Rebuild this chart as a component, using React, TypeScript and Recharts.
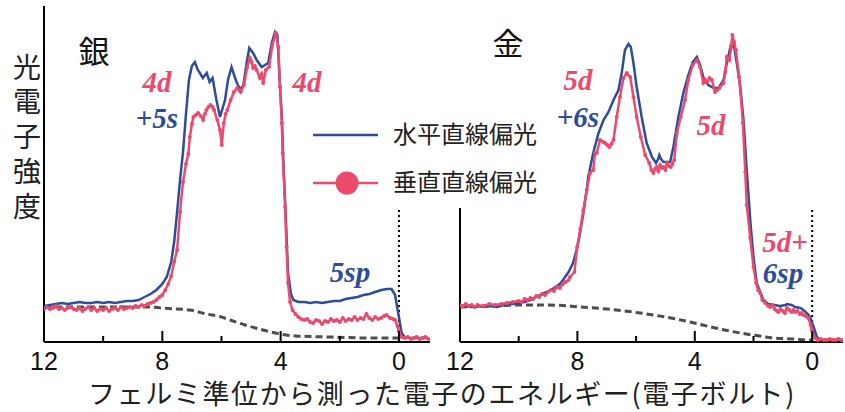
import React from 'react';
import { ComposedChart, Line, XAxis, YAxis, ReferenceLine, Legend } from 'recharts';

const BLUE = '#2c4c9c';
const RED = '#ec4a6d';
const GRAY = '#4d4d4d';

// tick positions (electron-volts below Fermi level)
const xTicks = [12, 10, 8, 6, 4, 2, 0];
const majorTickLabels = [12, 8, 4, 0];

const legendLabels = ['水平直線偏光', '垂直直線偏光'];
const yLabelText = '光電子強度';
const xLabelText = 'フェルミ準位から測った電子のエネルギー(電子ボルト)';

// ---------- 銀 (silver) ----------
const silverH: [number, number][] = [
  [12, 36], [11.8, 37], [11.6, 38], [11.4, 39], [11.2, 38], [11.0, 39], [10.8, 40], [10.6, 39],
  [10.4, 39], [10.2, 40], [10.0, 39], [9.8, 40], [9.6, 39], [9.4, 40], [9.2, 41], [9.0, 41],
  [8.8, 42], [8.6, 45], [8.4, 48], [8.2, 52], [8.0, 58], [7.85, 65], [7.7, 80], [7.6, 100],
  [7.5, 130], [7.4, 162], [7.3, 190], [7.2, 228], [7.1, 262], [7.0, 276], [6.9, 280], [6.8, 272],
  [6.73, 269], [6.63, 264], [6.5, 269], [6.4, 260], [6.3, 264], [6.17, 242], [6.05, 225], [5.95, 235],
  [5.88, 242], [5.78, 262], [5.66, 275], [5.55, 265], [5.49, 260], [5.37, 252], [5.26, 257], [5.15, 279],
  [5.06, 294], [4.93, 289], [4.81, 282], [4.64, 275], [4.53, 277], [4.42, 279], [4.3, 299], [4.19, 310],
  [4.11, 307], [4.02, 255], [3.96, 225], [3.91, 182], [3.85, 142], [3.75, 69], [3.65, 48], [3.57, 42],
  [3.4, 40], [3.2, 40], [3.0, 39], [2.8, 40], [2.6, 39], [2.4, 40], [2.2, 41], [2.0, 41],
  [1.8, 43], [1.6, 44], [1.4, 45], [1.2, 47], [1.0, 48], [0.8, 50], [0.6, 52], [0.4, 53],
  [0.25, 53], [0.13, 47], [0.05, 33], [0.0, 25], [-0.09, 9], [-0.2, 5], [-0.4, 4], [-0.6, 4],
  [-0.8, 4], [-1.0, 4],
];

const silverV: [number, number][] = [
  [12, 33], [11.9, 35], [11.8, 33], [11.7, 34], [11.6, 36], [11.5, 33], [11.4, 34], [11.3, 32],
  [11.2, 34], [11.1, 35], [11.0, 33], [10.9, 32], [10.8, 34], [10.7, 31], [10.6, 33], [10.5, 35],
  [10.4, 32], [10.3, 34], [10.2, 31], [10.1, 33], [10.0, 32], [9.9, 34], [9.8, 31], [9.7, 33],
  [9.6, 34], [9.5, 32], [9.4, 35], [9.3, 33], [9.2, 34], [9.1, 35], [9.0, 34], [8.9, 36],
  [8.8, 35], [8.7, 37], [8.6, 36], [8.5, 38], [8.4, 39], [8.3, 40], [8.2, 42], [8.1, 45],
  [8.0, 47], [7.9, 52], [7.8, 58], [7.7, 66], [7.6, 80], [7.5, 92], [7.4, 130], [7.3, 160],
  [7.2, 178], [7.12, 188], [7.07, 205], [7.0, 218], [6.95, 225], [6.87, 227], [6.79, 229], [6.7, 226],
  [6.62, 222], [6.56, 228], [6.51, 232], [6.44, 235], [6.37, 237], [6.3, 235], [6.25, 232], [6.14, 222],
  [6.05, 212], [5.99, 197], [5.92, 219], [5.86, 228], [5.8, 232], [5.69, 242], [5.58, 250], [5.47, 254],
  [5.4, 252], [5.35, 250], [5.24, 257], [5.13, 275], [5.04, 284], [4.98, 280], [4.93, 274], [4.87, 276],
  [4.81, 272], [4.7, 264], [4.64, 268], [4.59, 259], [4.5, 272], [4.39, 275], [4.28, 297], [4.16, 309],
  [4.08, 295], [4.02, 255], [3.96, 219], [3.93, 189], [3.85, 135], [3.8, 95], [3.75, 59], [3.68, 40],
  [3.6, 32], [3.5, 28], [3.4, 25], [3.3, 23], [3.2, 22], [3.1, 23], [3.0, 20], [2.9, 19],
  [2.8, 22], [2.7, 21], [2.6, 18], [2.5, 21], [2.4, 20], [2.3, 23], [2.2, 21], [2.1, 22],
  [2.0, 20], [1.9, 24], [1.8, 21], [1.7, 23], [1.6, 22], [1.5, 25], [1.4, 22], [1.3, 24],
  [1.2, 23], [1.1, 28], [1.0, 24], [0.9, 22], [0.8, 25], [0.7, 23], [0.6, 24], [0.5, 26],
  [0.42, 27], [0.3, 24], [0.2, 23], [0.13, 22], [0.05, 16], [0.0, 11], [-0.09, 5], [-0.2, 4],
  [-0.3, 5], [-0.4, 3], [-0.5, 4], [-0.6, 5], [-0.7, 3], [-0.8, 4], [-0.9, 5], [-1.0, 3],
];

const silverBg: [number, number][] = [
  [12, 35], [11, 35], [10, 35], [9, 35], [8.5, 35], [8, 34], [7.5, 33], [7.07, 32],
  [6.5, 28], [6, 25], [5.71, 22], [5.2, 17], [4.6, 12], [4.02, 8], [3.5, 6], [3, 5.5],
  [2.33, 5], [1, 4], [0, 4],
];

// ---------- 金 (gold) ----------
const goldH: [number, number][] = [
  [12, 37], [11.8, 36], [11.6, 35], [11.4, 36], [11.2, 35], [11.0, 36], [10.74, 35], [10.5, 37],
  [10.2, 38], [10.0, 39], [9.8, 40], [9.61, 42], [9.4, 45], [9.2, 48], [9.04, 50], [8.8, 54],
  [8.6, 58], [8.49, 62], [8.3, 70], [8.15, 79], [8.0, 95], [7.91, 109], [7.8, 128], [7.67, 155],
  [7.63, 165], [7.46, 189], [7.28, 209], [7.11, 222], [6.94, 230], [6.77, 242], [6.6, 252], [6.49, 269],
  [6.38, 292], [6.26, 298], [6.18, 295], [6.09, 279], [5.98, 255], [5.81, 225], [5.64, 199], [5.46, 185],
  [5.32, 179], [5.25, 183], [5.21, 187], [5.15, 183], [5.07, 180], [4.95, 180], [4.84, 180], [4.73, 195],
  [4.56, 225], [4.39, 249], [4.22, 267], [4.07, 280], [3.93, 285], [3.82, 277], [3.68, 262], [3.54, 257],
  [3.36, 254], [3.19, 254], [3.02, 262], [2.91, 279], [2.77, 297], [2.68, 299], [2.57, 279], [2.45, 255],
  [2.34, 222], [2.23, 172], [2.1, 118], [2.0, 85], [1.89, 59], [1.76, 49], [1.66, 42], [1.5, 38],
  [1.3, 37], [1.1, 36], [0.9, 37], [0.86, 38], [0.7, 37], [0.58, 35], [0.4, 34], [0.3, 32],
  [0.15, 28], [0.07, 25], [-0.05, 15], [-0.16, 5], [-0.27, 2], [-0.5, 2], [-1.0, 2],
];

const goldV: [number, number][] = [
  [12, 37], [11.9, 36], [11.8, 38], [11.7, 36], [11.6, 37], [11.5, 35], [11.4, 37], [11.2, 36],
  [11.0, 38], [10.8, 37], [10.6, 38], [10.4, 39], [10.2, 40], [10.0, 41], [9.9, 40], [9.8, 43],
  [9.7, 42], [9.6, 44], [9.5, 43], [9.4, 46], [9.3, 45], [9.2, 48], [9.1, 47], [9.0, 50],
  [8.9, 52], [8.8, 51], [8.7, 55], [8.6, 54], [8.5, 58], [8.4, 60], [8.3, 62], [8.25, 65],
  [8.1, 70], [8.01, 95], [7.9, 113], [7.8, 132], [7.68, 152], [7.57, 169], [7.46, 172], [7.4, 189],
  [7.34, 189], [7.23, 202], [7.12, 200], [7.06, 199], [6.98, 197], [6.91, 195], [6.84, 198], [6.77, 202],
  [6.66, 225], [6.55, 245], [6.43, 264], [6.32, 269], [6.2, 265], [6.09, 245], [5.98, 225], [5.84, 205],
  [5.69, 187], [5.55, 179], [5.48, 172], [5.41, 169], [5.35, 173], [5.3, 175], [5.24, 171], [5.18, 177],
  [5.12, 174], [5.07, 175], [5.0, 172], [4.95, 179], [4.88, 176], [4.82, 175], [4.76, 178], [4.7, 182],
  [4.61, 209], [4.48, 225], [4.33, 242], [4.22, 262], [4.07, 277], [3.93, 282], [3.82, 275], [3.71, 259],
  [3.64, 262], [3.57, 260], [3.5, 264], [3.42, 262], [3.31, 250], [3.24, 252], [3.16, 254], [3.02, 259],
  [2.96, 270], [2.91, 285], [2.82, 282], [2.76, 295], [2.72, 307], [2.66, 300], [2.6, 292], [2.49, 265],
  [2.36, 219], [2.28, 170], [2.23, 137], [2.11, 104], [2.0, 75], [1.91, 59], [1.84, 52], [1.77, 49],
  [1.7, 42], [1.6, 39], [1.5, 36], [1.43, 35], [1.35, 37], [1.28, 33], [1.2, 31], [1.15, 30],
  [1.08, 33], [1.0, 31], [0.93, 29], [0.86, 34], [0.78, 32], [0.7, 30], [0.64, 32], [0.58, 30],
  [0.5, 31], [0.42, 28], [0.36, 29], [0.3, 27], [0.22, 26], [0.13, 24], [0.05, 17], [0.01, 12],
  [-0.1, 4], [-0.2, 2], [-0.3, 3], [-0.4, 2], [-0.5, 2], [-0.6, 3], [-0.7, 2], [-0.8, 2],
  [-0.9, 3], [-1.0, 2],
];

const goldBg: [number, number][] = [
  [12, 35], [11, 36], [10, 37], [9.27, 37], [8.5, 36.5], [7.91, 35], [7, 33], [5.86, 29],
  [5, 25], [4.16, 20], [3.3, 14], [2.45, 9], [1.8, 6], [1.33, 4], [0.6, 3], [0.17, 2], [0, 2],
];

const toRows = (arr: [number, number][]) => arr.map(([e, v]) => ({ e, v }));

const SERIF = "'Liberation Serif', 'DejaVu Serif', serif";
const SANS = "'Liberation Sans', Arial, Helvetica, sans-serif";
const CJK = "'Noto Sans CJK JP', sans-serif";

const AxisTick = (props: any) => {
  const { x, y, payload } = props;
  const v = payload.value;
  const major = majorTickLabels.includes(v);
  return (
    <g>
      {v !== 12 && (
        <line x1={x} x2={x} y1={y} y2={y - (major ? 11 : 6)} stroke="#000" strokeWidth={2} />
      )}
      {major && (
        <text x={x} y={y + 28} textAnchor="middle" fontSize={25} style={{ fontFamily: SANS }} fill="#111">
          {v}
        </text>
      )}
    </g>
  );
};

const LegendContent = () => (
  <svg width={240} height={90} style={{ overflow: 'visible' }}>
    <line x1={0} x2={65} y1={20} y2={20} stroke={BLUE} strokeWidth={2.5} />
    <text x={80} y={28} fontSize={24} style={{ fontFamily: CJK }} fill="#222">{legendLabels[0]}</text>
    <line x1={0} x2={65} y1={68} y2={68} stroke={RED} strokeWidth={2.5} />
    <circle cx={34} cy={68} r={11.5} fill={RED} />
    <text x={80} y={76} fontSize={24} style={{ fontFamily: CJK }} fill="#222">{legendLabels[1]}</text>
  </svg>
);

type PanelProps = {
  h: [number, number][];
  v: [number, number][];
  bg: [number, number][];
  left: number;
  right: number;
  yAxisTop: number;
  withLegend?: boolean;
};

const Panel = ({ h, v, bg, left, right, yAxisTop, withLegend }: PanelProps) => (
  <div style={{ position: 'absolute', left: 0, top: 0 }}>
    <ComposedChart width={845} height={412} margin={{ top: 6, right, bottom: 0, left }}>
      <XAxis
        type="number"
        dataKey="e"
        domain={[-1.05, 12]}
        reversed
        allowDataOverflow
        ticks={xTicks}
        interval={0}
        height={70}
        tickSize={0}
        tickMargin={0}
        tickLine={false}
        tick={<AxisTick />}
        axisLine={{ stroke: '#000', strokeWidth: 2 }}
      />
      <YAxis type="number" dataKey="v" domain={[0, 336]} hide allowDataOverflow />
      <ReferenceLine
        segment={[{ x: 12, y: 0 }, { x: 12, y: yAxisTop }]}
        stroke="#000"
        strokeWidth={2}
      />
      <ReferenceLine
        segment={[{ x: 0, y: 0 }, { x: 0, y: 134 }]}
        stroke="#000"
        strokeWidth={2}
        strokeDasharray="2 3"
      />
      <Line
        data={toRows(bg)}
        dataKey="v"
        type="monotone"
        stroke={GRAY}
        strokeWidth={3}
        strokeDasharray="7 4"
        dot={false}
        isAnimationActive={false}
      />
      <Line
        data={toRows(h)}
        dataKey="v"
        type="linear"
        stroke={BLUE}
        strokeWidth={2.5}
        dot={false}
        isAnimationActive={false}
      />
      <Line
        data={toRows(v)}
        dataKey="v"
        type="linear"
        stroke={RED}
        strokeWidth={2.5}
        dot={{ r: 2, fill: RED, stroke: RED, strokeWidth: 0 }}
        isAnimationActive={false}
      />
      {withLegend && (
        <Legend
          layout="horizontal"
          verticalAlign="middle"
          align="center"
          content={<LegendContent />}
          wrapperStyle={{ left: 313, top: 115, width: 240, height: 90 }}
        />
      )}
    </ComposedChart>
  </div>
);

const annotations: { t: string; x: number; y: number; c: string }[] = [
  { t: '4d', x: 157, y: 92, c: RED },
  { t: '+5s', x: 157, y: 128, c: BLUE },
  { t: '4d', x: 307, y: 92, c: RED },
  { t: '5sp', x: 350, y: 282, c: BLUE },
  { t: '5d', x: 578, y: 90, c: RED },
  { t: '+6s', x: 578, y: 127, c: BLUE },
  { t: '5d', x: 711, y: 135, c: RED },
  { t: '5d+', x: 785, y: 252, c: RED },
  { t: '6sp', x: 783, y: 283, c: BLUE },
];

export default function App() {
  return (
    <div
      style={{
        position: 'fixed',
        left: 0,
        top: 0,
        width: 845,
        height: 412,
        background: '#fff',
        overflow: 'hidden',
      }}
    >
      <Panel h={silverH} v={silverV} bg={silverBg} left={44} right={415} yAxisTop={336} />
      <Panel h={goldH} v={goldV} bg={goldBg} left={460} right={2} yAxisTop={134} withLegend />
      <div
        style={{
          position: 'absolute',
          left: 13,
          top: 53,
          width: 28,
          writingMode: 'vertical-rl',
          fontFamily: CJK,
          fontSize: 28,
          lineHeight: '28px',
          letterSpacing: '6.8px',
          color: '#222',
          whiteSpace: 'nowrap',
        }}
      >
        {yLabelText}
      </div>
      <svg
        width={845}
        height={412}
        style={{ position: 'absolute', left: 0, top: 0, pointerEvents: 'none' }}
      >
        <text x={94} y={63} textAnchor="middle" fontSize={31} style={{ fontFamily: CJK }} fill="#111">銀</text>
        <text x={508} y={55} textAnchor="middle" fontSize={31} style={{ fontFamily: CJK }} fill="#111">金</text>
        <text
          x={442}
          y={404}
          textAnchor="middle"
          fontSize={27}
          letterSpacing={1.6}
          style={{ fontFamily: CJK }}
          fill="#222"
        >
          {xLabelText}
        </text>
        {annotations.map((a, i) => (
          <text
            key={i}
            x={a.x}
            y={a.y}
            textAnchor="middle"
            fontSize={29}
            style={{ fontFamily: SERIF, fontWeight: 700, fontStyle: 'italic' }}
            fill={a.c}
          >
            {a.t}
          </text>
        ))}
      </svg>
    </div>
  );
}
